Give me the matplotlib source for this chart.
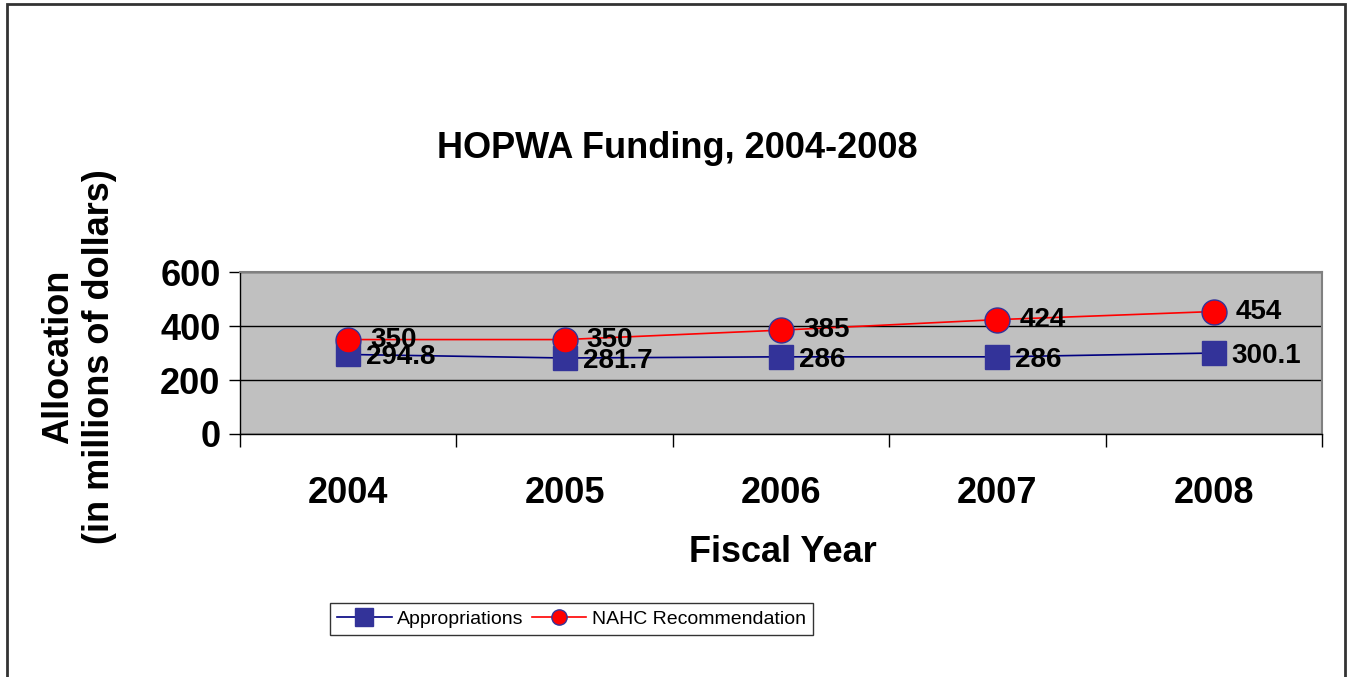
import numpy as np
import matplotlib.pyplot as plt
from matplotlib.patches import Rectangle

years = ['2004', '2005', '2006', '2007', '2008']
appropriations = [294.8, 281.7, 286, 286, 300.1]
nahc = [350, 350, 385, 424, 454]
approp_labels = ['294.8', '281.7', '286', '286', '300.1']
nahc_labels = ['350', '350', '385', '424', '454']

plt.rcParams['font.family'] = ['Liberation Sans', 'DejaVu Sans']

fig = plt.figure(figsize=(13.47, 6.77), dpi=100)
ax = fig.add_axes([0.1782, 0.359, 0.8032, 0.239])

x = np.arange(len(years))
ax.set_facecolor('#C0C0C0')
ax.plot(x, appropriations, color='#000080', lw=1.2, marker='s', markersize=17,
        markerfacecolor='#333399', markeredgecolor='#333399', label='Appropriations', zorder=3)
ax.plot(x, nahc, color='#FF0000', lw=1.2, marker='o', markersize=18,
        markerfacecolor='#FF0000', markeredgecolor='#333399', label='NAHC Recommendation', zorder=4)

for i in range(len(years)):
    ax.annotate(nahc_labels[i], (x[i], nahc[i]), xytext=(16, 0), textcoords='offset points',
                ha='left', va='center', fontsize=20, fontweight='bold', zorder=5)
    ax.annotate(approp_labels[i], (x[i], appropriations[i]), xytext=(13, -2), textcoords='offset points',
                ha='left', va='center', fontsize=20, fontweight='bold', zorder=5)

ax.set_xlim(-0.5, 4.5)
ax.set_ylim(0, 600)
ax.set_yticks([0, 200, 400, 600])
ax.set_yticklabels(['0', '200', '400', '600'], fontsize=26, fontweight='bold')
ax.yaxis.grid(True, color='black', lw=1)
ax.set_axisbelow(True)
ax.set_xticks(x)
ax.set_xticklabels(years, fontsize=26, fontweight='bold')
ax.tick_params(axis='x', length=0, pad=30)
ax.set_xticks(np.arange(-0.5, 5, 1), minor=True)
ax.tick_params(axis='x', which='minor', length=9, width=1, direction='out')
ax.tick_params(axis='y', length=8, width=1, direction='out', pad=6)

for s in ['top', 'right']:
    ax.spines[s].set_color('#808080')
    ax.spines[s].set_linewidth(1.5)
for s in ['left', 'bottom']:
    ax.spines[s].set_color('black')
    ax.spines[s].set_linewidth(1)

fig.text(677 / 1347, 1 - 148 / 677, 'HOPWA Funding, 2004-2008', ha='center', va='center',
         fontsize=26, fontweight='bold')
fig.text(0.581, 0.184, 'Fiscal Year', ha='center', va='center', fontsize=26, fontweight='bold')
fig.text(79 / 1347, 0.473, 'Allocation\n(in millions of dollars)', ha='center', va='center',
         rotation=90, fontsize=26, fontweight='bold', multialignment='center', linespacing=1.25)

leg = ax.legend(loc='center', ncol=2, fontsize=14, frameon=True, fancybox=False,
                handlelength=2.8, columnspacing=0.4, handletextpad=0.3, borderpad=0.35,
                markerscale=0.75)
leg.set_bbox_to_anchor((0.5 * (333 + 810) / 1347, 1 - 619 / 677), transform=fig.transFigure)
leg.get_frame().set_edgecolor('black')
leg.get_frame().set_linewidth(1)
leg.legend_handles[1].set_markersize(11)

fig.patches.append(Rectangle((7 / 1347, -0.05), 1338 / 1347, 1.05 - 4 / 677,
                             transform=fig.transFigure, fill=False, edgecolor='#333333', lw=2))

fig.savefig('out.png', dpi=100)
